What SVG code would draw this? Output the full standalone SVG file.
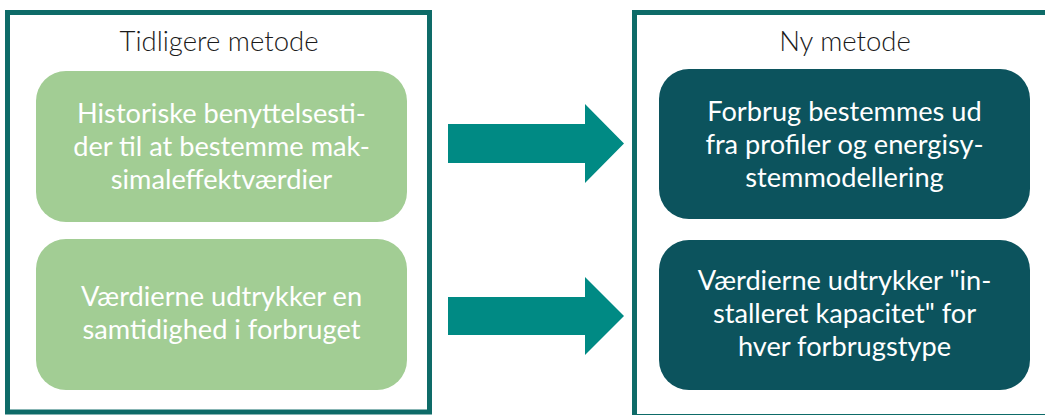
<svg xmlns="http://www.w3.org/2000/svg" width="1045" height="415" viewBox="0 0 1045 415">
  <style>
    .frame { fill: #ffffff; stroke: #0e6b68; stroke-width: 5; }
    .title { font-family: Lato, "Liberation Sans", sans-serif; font-size: 27.5px; font-weight: 300; fill: #1a1a1a; text-anchor: middle; }
    .green { fill: #a2cd94; }
    .dark { fill: #0c535d; }
    .body { font-family: Lato, "Liberation Sans", sans-serif; font-size: 27.2px; fill: #ffffff; text-anchor: middle; }
    .arrow { fill: #008a84; }
  </style>
  <rect width="1045" height="415" fill="#ffffff"/>

  <g id="frame-old">
    <rect class="frame" x="7.5" y="12.5" width="422" height="399.5"/>
    <text class="title" x="219" y="51">Tidligere metode</text>
  </g>
  <g id="frame-new">
    <rect class="frame" x="634.5" y="12.5" width="430" height="404"/>
    <text class="title" x="845" y="51">Ny metode</text>
  </g>

  <g id="old-1">
    <rect class="green" x="36" y="71" width="371" height="151" rx="30"/>
    <text class="body" x="221.5"><tspan x="221.5" y="123">Historiske benyttelsesti-</tspan><tspan x="221.5" y="156">der til at bestemme mak-</tspan><tspan x="221.5" y="189">simaleffektværdier</tspan></text>
  </g>
  <g id="old-2">
    <rect class="green" x="36" y="239" width="371" height="151" rx="30"/>
    <text class="body" x="221.5"><tspan x="221.5" y="306">Værdierne udtrykker en</tspan><tspan x="221.5" y="339">samtidighed i forbruget</tspan></text>
  </g>
  <g id="new-1">
    <rect class="dark" x="659" y="69" width="371" height="150" rx="30"/>
    <text class="body" x="844.5"><tspan x="844.5" y="121">Forbrug bestemmes ud</tspan><tspan x="844.5" y="154">fra profiler og energisy-</tspan><tspan x="844.5" y="187">stemmodellering</tspan></text>
  </g>
  <g id="new-2">
    <rect class="dark" x="659" y="240" width="371" height="150" rx="30"/>
    <text class="body" x="844.5"><tspan x="844.5" y="290">Værdierne udtrykker "in-</tspan><tspan x="844.5" y="323">stalleret kapacitet" for</tspan><tspan x="844.5" y="356">hver forbrugstype</tspan></text>
  </g>

  <g id="connectors">
    <polygon class="arrow" points="448,124 585,124 585,104 624,143.5 585,183 585,163 448,163"/>
    <polygon class="arrow" points="448,297 585,297 585,277 624,316 585,355 585,335 448,335"/>
  </g>
</svg>
